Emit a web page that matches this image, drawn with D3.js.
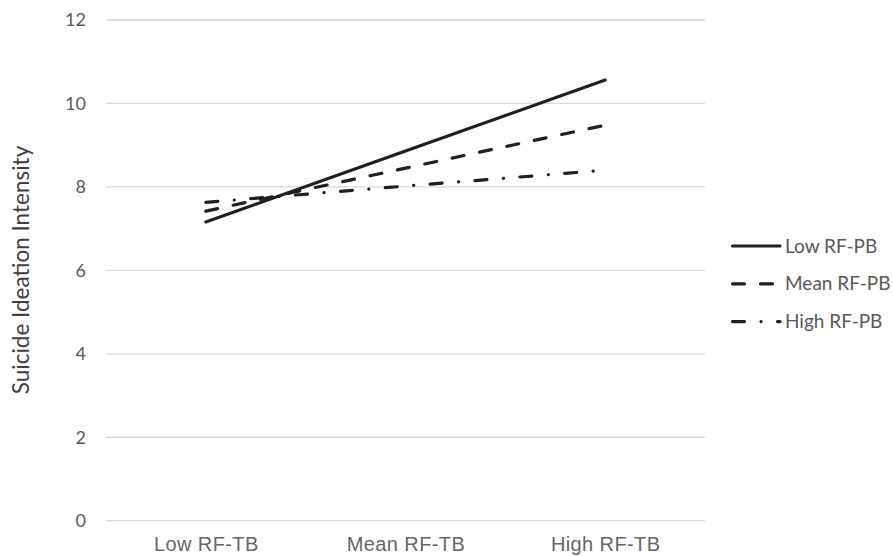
<!DOCTYPE html>
<html>
<head>
<meta charset="utf-8">
<script src="https://cdn.jsdelivr.net/npm/d3@7"></script>
<style>
  html, body { margin: 0; padding: 0; background: #fff; }
  svg { display: block; }
</style>
</head>
<body>
<svg id="chart" width="893" height="556"></svg>
<script>
const categories = ["Low RF-TB", "Mean RF-TB", "High RF-TB"];
const seriesNames = ["Low RF-PB", "Mean RF-PB", "High RF-PB"];
const lowRFPB = [7.16, 8.86, 10.56];
const meanRFPB = [7.42, 8.45, 9.48];
const highRFPB = [7.63, 8.02, 8.40];
const yTicks = [0, 2, 4, 6, 8, 10, 12];
const yTitle = "Suicide Ideation Intensity";

const series = [
  { name: seriesNames[0], values: lowRFPB, dash: null },
  { name: seriesNames[1], values: meanRFPB, dash: "12,16" },
  { name: seriesNames[2], values: highRFPB, dash: "12,16.5,0.1,16.4" }
];

const svg = d3.select("#chart");
const plot = { left: 106, right: 705, top: 20, bottom: 520.7 };

const x = d3.scalePoint().domain(categories).range([plot.left, plot.right]).padding(0.5);
const y = d3.scaleLinear().domain([0, 12]).range([plot.bottom, plot.top]);

// gridlines
svg.append("g")
  .selectAll("line")
  .data(yTicks)
  .join("line")
  .attr("x1", plot.left).attr("x2", plot.right)
  .attr("y1", d => y(d)).attr("y2", d => y(d))
  .attr("stroke", "#d9d9d9").attr("stroke-width", 1.3);

// y axis tick labels
const yAxis = d3.axisLeft(y).tickValues(yTicks).tickSize(0).tickPadding(0);
const gy = svg.append("g").attr("transform", `translate(86,0)`).call(yAxis);
gy.select(".domain").remove();
gy.selectAll("text")
  .attr("font-family", "Lato, 'Open Sans', sans-serif")
  .attr("font-size", 18)
  .attr("fill", "#595959");

// x axis labels
const xAxis = d3.axisBottom(x).tickSize(0).tickPadding(0);
const gx = svg.append("g").attr("transform", `translate(0,${plot.bottom})`).call(xAxis);
gx.select(".domain").remove();
gx.selectAll("text")
  .attr("dy", null)
  .attr("y", 30.5)
  .attr("font-family", "'Liberation Sans', Arial, sans-serif")
  .attr("font-size", 20)
  .attr("letter-spacing", "0.4px")
  .attr("fill", "#666666");

// y title
svg.append("text")
  .attr("transform", `translate(29,270) rotate(-90)`)
  .attr("text-anchor", "middle")
  .attr("font-family", "Lato, 'Open Sans', sans-serif")
  .attr("font-size", 22.5)
  .attr("fill", "#404040")
  .text(yTitle);

// lines
const line = d3.line().x((d, i) => x(categories[i])).y(d => y(d));
svg.append("g")
  .selectAll("path")
  .data(series)
  .join("path")
  .attr("d", d => line(d.values))
  .attr("fill", "none")
  .attr("stroke", "#1f1f1f")
  .attr("stroke-width", 3.2)
  .attr("stroke-linecap", "round")
  .attr("stroke-dasharray", d => d.dash);

// legend
const legend = svg.append("g");
const lg = legend.selectAll("g")
  .data(series)
  .join("g")
  .attr("transform", (d, i) => `translate(0,${246 + i * 37.8})`);
lg.append("line")
  .attr("x1", 732.5).attr("x2", 780)
  .attr("y1", 0).attr("y2", 0)
  .attr("stroke", "#1f1f1f")
  .attr("stroke-width", 3.2)
  .attr("stroke-linecap", "round")
  .attr("stroke-dasharray", d => d.dash);
lg.append("text")
  .attr("x", 785)
  .attr("y", 0)
  .attr("dy", "0.35em")
  .attr("font-family", "Lato, 'Open Sans', sans-serif")
  .attr("font-size", 19)
  .attr("fill", "#595959")
  .text(d => d.name);
</script>
</body>
</html>
